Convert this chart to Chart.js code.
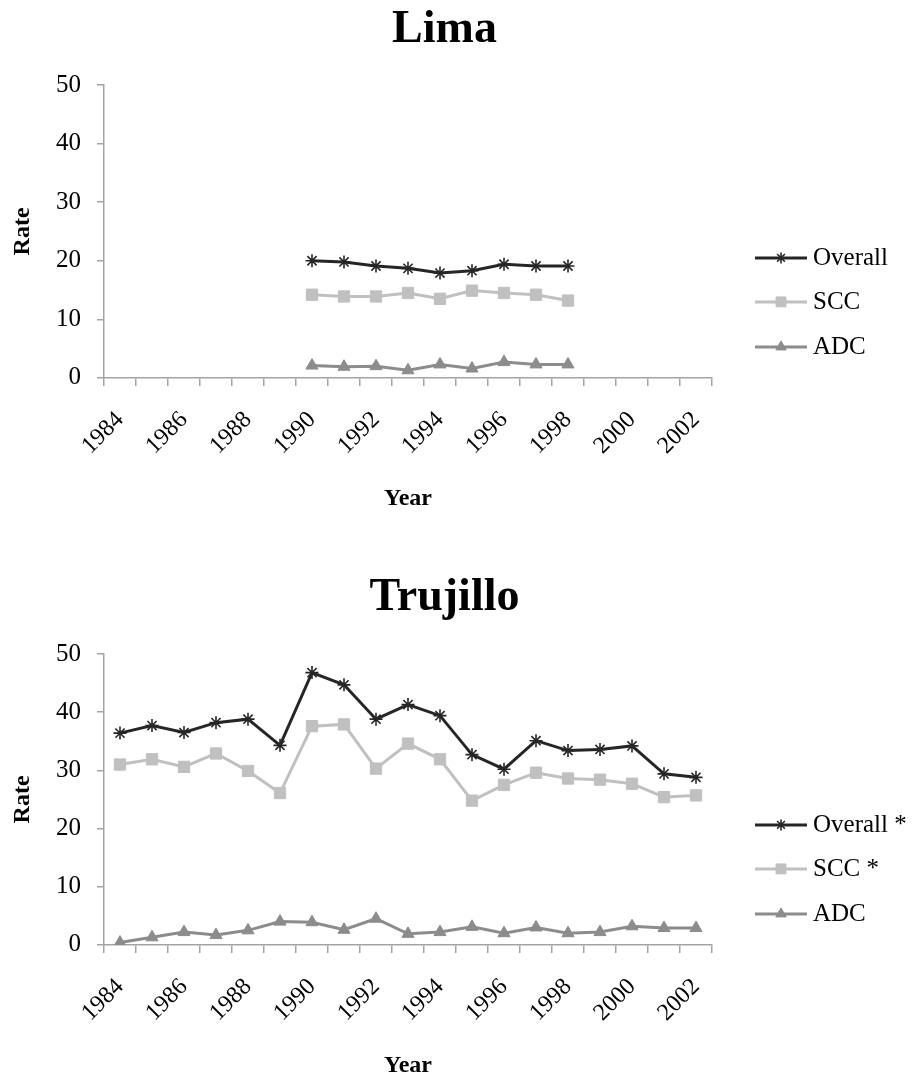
<!DOCTYPE html>
<html>
<head>
<meta charset="utf-8">
<title>Lima / Trujillo rates</title>
<script src="https://cdn.jsdelivr.net/npm/chart.js@4.4.0/dist/chart.umd.min.js"></script>
<style>
  html, body { margin: 0; padding: 0; background: #fff; }
  .panel { width: 913px; height: 540px; position: relative; }
  canvas { display: block; }
</style>
</head>
<body>
<div class="panel"><canvas id="limaChart" width="913" height="540"></canvas></div>
<div class="panel"><canvas id="trujilloChart" width="913" height="540"></canvas></div>
<script>
// Data
const years = ["1984","1985","1986","1987","1988","1989","1990","1991","1992","1993",
               "1994","1995","1996","1997","1998","1999","2000","2001","2002"];
const rateTicks = [0, 10, 20, 30, 40, 50];

// Lima only has 1990-1998
const limaOverall = [null,null,null,null,null,null,20.0,19.8,19.1,18.7,17.9,18.3,19.4,19.1,19.1,null,null,null,null];
const limaSCC     = [null,null,null,null,null,null,14.2,13.9,13.9,14.5,13.5,14.9,14.5,14.2,13.2,null,null,null,null];
const limaADC     = [null,null,null,null,null,null,2.1,1.9,2.0,1.3,2.3,1.6,2.7,2.3,2.3,null,null,null,null];

const trujilloOverall = [36.4,37.7,36.5,38.2,38.8,34.3,46.8,44.7,38.8,41.3,39.4,32.7,30.2,35.1,33.4,33.6,34.2,29.4,28.8];
const trujilloSCC     = [31.0,31.9,30.6,32.9,29.9,26.1,37.6,37.9,30.3,34.6,31.9,24.8,27.5,29.6,28.6,28.4,27.7,25.4,25.7];
const trujilloADC     = [0.4,1.3,2.2,1.7,2.5,4.0,3.9,2.6,4.5,1.9,2.2,3.1,2.0,3.0,2.0,2.2,3.2,2.9,2.9];

const limaLabels = ["Overall", "SCC", "ADC"];
const trujilloLabels = ["Overall *", "SCC *", "ADC"];

const FONT = "'Liberation Serif', 'Times New Roman', serif";
const axisGray = "#a3a3a3";

const colors = {
  overall: "#262626",
  scc: "#c0c0c0",
  adc: "#8c8c8c",
};

// Big bold title, centred a bit left of the canvas middle
const panelTitle = {
  id: "panelTitle",
  afterDraw(chart, args, opts) {
    const ctx = chart.ctx;
    ctx.save();
    ctx.fillStyle = "#000";
    ctx.font = "bold 46px " + FONT;
    ctx.textAlign = "center";
    ctx.textBaseline = "middle";
    ctx.fillText(opts.text, chart.width / 2 - 12, opts.y);
    ctx.restore();
  }
};

// Legend on the right, drawn next to the plot area
const sideLegend = {
  id: "sideLegend",
  afterDraw(chart) {
    const ctx = chart.ctx;
    const area = chart.chartArea;
    const rows = [120, 76, 31];
    ctx.save();
    chart.data.datasets.forEach((ds, i) => {
      const y = area.bottom - rows[i];
      const x0 = area.right + 43;
      const x1 = area.right + 95;
      ctx.strokeStyle = ds.borderColor;
      ctx.lineWidth = 3;
      ctx.beginPath();
      ctx.moveTo(x0, y);
      ctx.lineTo(x1, y);
      ctx.stroke();
      ctx.fillStyle = ds.pointBackgroundColor;
      ctx.strokeStyle = ds.pointBorderColor;
      ctx.lineWidth = ds.pointBorderWidth;
      Chart.helpers.drawPoint(ctx, {
        pointStyle: ds.pointStyle,
        radius: ds.pointRadius - 1,
        borderWidth: ds.pointBorderWidth,
        rotation: 0
      }, (x0 + x1) / 2, y);
      ctx.fillStyle = "#000";
      ctx.font = "25px " + FONT;
      ctx.textAlign = "left";
      ctx.textBaseline = "middle";
      ctx.fillText(ds.label, x1 + 6, y + 1);
    });
    ctx.restore();
  }
};

function makeDatasets(labels, overall, scc, adc) {
  return [
    {
      label: labels[0],
      data: overall,
      borderColor: colors.overall,
      backgroundColor: colors.overall,
      borderWidth: 3,
      pointStyle: "star",
      pointRadius: 6.5,
      pointBorderWidth: 1.6,
      pointBackgroundColor: colors.overall,
      pointBorderColor: colors.overall,
      tension: 0,
    },
    {
      label: labels[1],
      data: scc,
      borderColor: colors.scc,
      backgroundColor: colors.scc,
      borderWidth: 3,
      pointStyle: "rect",
      pointRadius: 8,
      pointBorderWidth: 1,
      pointBackgroundColor: colors.scc,
      pointBorderColor: colors.scc,
      tension: 0,
    },
    {
      label: labels[2],
      data: adc,
      borderColor: colors.adc,
      backgroundColor: colors.adc,
      borderWidth: 3,
      pointStyle: "triangle",
      pointRadius: 7,
      pointBorderWidth: 1,
      pointBackgroundColor: colors.adc,
      pointBorderColor: colors.adc,
      tension: 0,
    },
  ];
}

function makeOptions(titleText, titleY, topPad, bottomPad) {
  return {
    responsive: false,
    animation: false,
    spanGaps: false,
    layout: { padding: { top: topPad, left: 0, right: 201, bottom: bottomPad } },
    plugins: {
      legend: { display: false },
      tooltip: { enabled: false },
      title: { display: false },
      panelTitle: { text: titleText, y: titleY },
    },
    scales: {
      x: {
        type: "category",
        offset: true,
        grid: {
          offset: true,
          drawOnChartArea: false,
          drawTicks: true,
          tickLength: 8,
          color: axisGray,
          lineWidth: 1.5,
        },
        border: { color: axisGray, width: 1.5 },
        ticks: {
          autoSkip: false,
          maxRotation: 45,
          minRotation: 45,
          padding: 20,
          color: "#000",
          font: { family: FONT, size: 24 },
          callback: function (value, index) {
            return index % 2 === 0 ? this.getLabelForValue(value) : "";
          },
        },
        title: {
          display: true,
          text: "Year",
          color: "#000",
          font: { family: FONT, size: 24, weight: "bold" },
          padding: { top: 4, bottom: 0 },
        },
      },
      y: {
        min: rateTicks[0],
        max: rateTicks[rateTicks.length - 1],
        afterBuildTicks: (scale) => {
          scale.ticks = rateTicks.map((v) => ({ value: v }));
        },
        afterFit: (scale) => { scale.width = 104; },
        grid: {
          drawOnChartArea: false,
          drawTicks: true,
          tickLength: 7,
          color: axisGray,
          lineWidth: 1.5,
        },
        border: { color: axisGray, width: 1.5 },
        ticks: {
          padding: 16,
          color: "#000",
          font: { family: FONT, size: 25 },
        },
        title: {
          display: true,
          text: "Rate",
          color: "#000",
          font: { family: FONT, size: 24, weight: "bold" },
          padding: { top: 8, bottom: 0 },
        },
      },
    },
  };
}

new Chart(document.getElementById("limaChart"), {
  type: "line",
  data: {
    labels: years,
    datasets: makeDatasets(limaLabels, limaOverall, limaSCC, limaADC),
  },
  options: makeOptions("Lima", 30, 85, 27),
  plugins: [panelTitle, sideLegend],
});

new Chart(document.getElementById("trujilloChart"), {
  type: "line",
  data: {
    labels: years,
    datasets: makeDatasets(trujilloLabels, trujilloOverall, trujilloSCC, trujilloADC),
  },
  options: makeOptions("Trujillo", 58.5, 114, 0),
  plugins: [panelTitle, sideLegend],
});
</script>
</body>
</html>
